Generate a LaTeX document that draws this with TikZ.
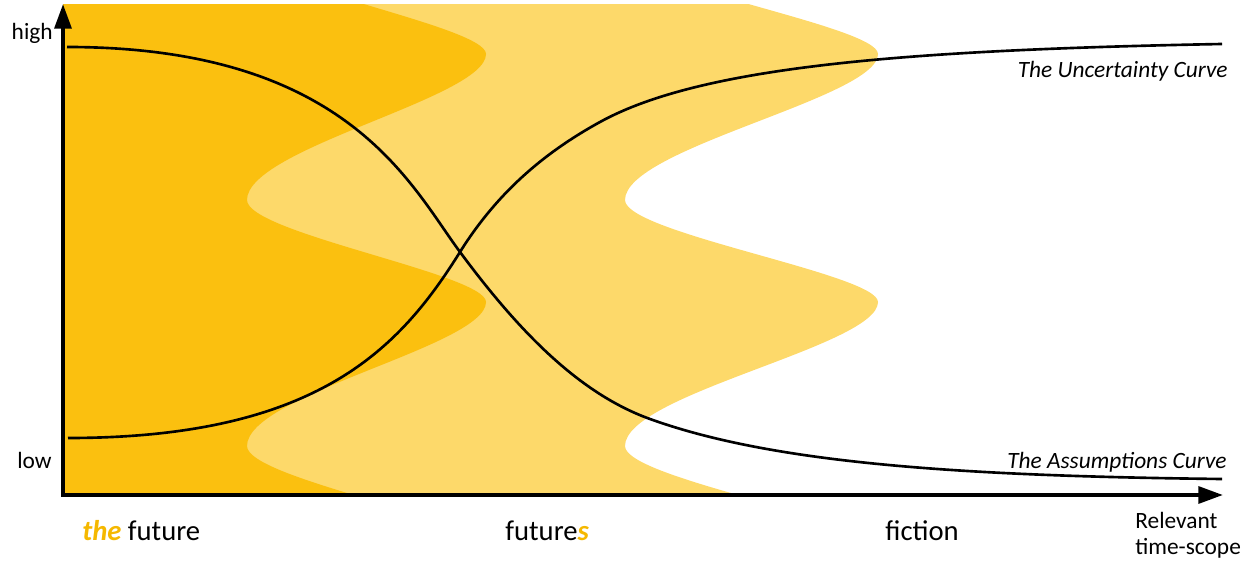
\documentclass[tikz,border=0pt]{standalone}
\usepackage{fontspec}
\setmainfont{Carlito}
\usetikzlibrary{arrows.meta}
\definecolor{darkgold}{RGB}{251,192,15}
\definecolor{lightgold}{RGB}{253,217,106}
\definecolor{accentgold}{RGB}{245,184,0}
% wavy right edge of a band: #1 = inner x, #2 = outer x
\newcommand\bandedge[2]{(#1,-48) .. controls (#1,-15) and (#2,26) .. (#2,54)
  .. controls (#2,98) and (#1,148) .. (#1,200) .. controls (#1,233) and (#2,274) .. (#2,302)
  .. controls (#2,346) and (#1,394) .. (#1,446) .. controls (#1,479) and (#2,520) .. (#2,548)}
\newcommand\goldword[1]{\textcolor{accentgold}{\textbf{\textit{#1}}}}
\begin{document}
\begin{tikzpicture}[x=0.02cm, y=-0.02cm, every node/.style={inner sep=0pt},
  bigtext/.style={font=\fontsize{16.3}{19}\selectfont},
  smalltext/.style={font=\fontsize{13.3}{16}\selectfont},
  curvetext/.style={font=\fontsize{13.3}{16}\selectfont\itshape},
  curveline/.style={line width=1.5pt, black},
  axisline/.style={line width=2.3pt, line join=miter, {Triangle[length=14pt,width=9.5pt]}-{Triangle[length=14pt,width=9.5pt]}}]
  \useasboundingbox (0,0) rectangle (1260,563);
  \begin{scope}
    \clip (63,5) rectangle (1260,495);
    \fill[lightgold] (0,-60) -- \bandedge{625}{878} -- (0,560) -- cycle;
    \fill[darkgold] (0,-60) -- \bandedge{247}{486} -- (0,560) -- cycle;
  \end{scope}
  \coordinate (cross) at (460,252);
  % uncertainty curve
  \draw[curveline] (68,438) .. controls (318,438) and (400,348) .. (cross)
    .. controls (500,188) and (550,149.5) .. (600,122)
    .. controls (700,67) and (900,50) .. (1222,44);
  % assumptions curve
  \draw[curveline] (67,47) .. controls (347,47) and (410,184.5) .. (cross)
    .. controls (520,333) and (580,393.8) .. (650,419)
    .. controls (770,462.2) and (950,476) .. (1222,479);
  \coordinate (origin) at (63,495);
  \coordinate (ytop) at (63,4);
  \coordinate (xend) at (1223,495);
  \draw[axisline] (ytop) -- (origin) -- (xend);
  \node[smalltext, anchor=base east] (high) at (53,40) {high};
  \node[smalltext, anchor=base east] (low) at (52,468) {low};
  \node[curvetext, anchor=base east] (uncertainty) at (1228,78) {The Uncertainty Curve};
  \node[curvetext, anchor=base east] (assumptions) at (1227,468) {The Assumptions Curve};
  \node[bigtext, anchor=base west] (thefuture) at (82,540) {\goldword{the} future};
  \node[bigtext, anchor=base west] (futures) at (505,540) {future\goldword{s}};
  \node[bigtext, anchor=base west] (fiction) at (885,540) {fiction};
  \node[smalltext, anchor=base west] (relevant) at (1135,528) {Relevant};
  \node[smalltext, anchor=base west] (timescope) at (1135,554) {time-scope};
\end{tikzpicture}
\end{document}
